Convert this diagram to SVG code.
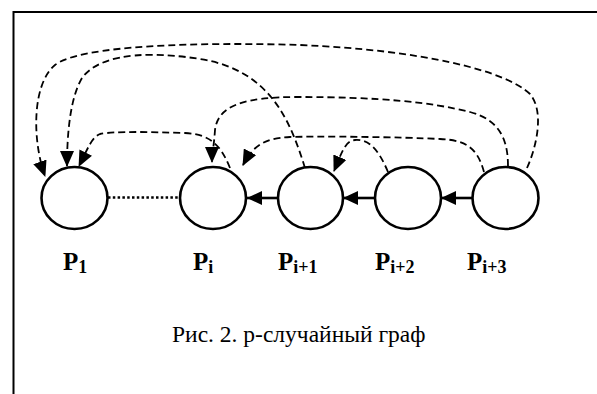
<svg xmlns="http://www.w3.org/2000/svg" width="597" height="394" viewBox="0 0 597 394">
<style>
.node{fill:#fff;stroke:#000;stroke-width:2.6}
.dash{fill:none;stroke:#000;stroke-width:1.8;stroke-dasharray:7 4;marker-end:url(#ah)}
.solid{fill:none;stroke:#000;stroke-width:2.6;marker-end:url(#sh)}
text{font-family:'Liberation Serif','DejaVu Serif',serif;fill:#000}
.lbl{font-weight:bold;font-size:25px}
.sub{font-size:18px}
.cap{font-size:23.5px}
</style>
<defs>
<marker id="ah" markerUnits="userSpaceOnUse" markerWidth="16" markerHeight="14" refX="15" refY="7" orient="auto">
<path d="M0,0 L16,7 L0,14 z" fill="#000"/>
</marker>
<marker id="sh" markerUnits="userSpaceOnUse" markerWidth="15" markerHeight="14" refX="15" refY="7" orient="auto">
<path d="M0,0 L15,7 L0,14 z" fill="#000"/>
</marker>
</defs>
<rect width="597" height="394" fill="#fff"/>
<path d="M13.5,400 L13.5,12 L600,12" fill="none" stroke="#000" stroke-width="2"/>
<g id="connectors">
<path class="dash" d="M527,168 C536,148 545,112 530,94 C505,70 420,50 300,45 C200,42 80,45 55,65 C32,84 32,140 45,176"/>
<path class="dash" d="M305,168 C290,120 270,70 200,59 C130,48 95,60 82,78 C70,98 67,135 67,166"/>
<path class="dash" d="M230,168 C222,148 212,134 185,133 C150,132 115,131 100,134 C92,137 88,148 79,166"/>
<path class="dash" d="M508,166 C508,140 500,120 470,112 C430,102 380,97 297,97 C245,97 218,105 215,130 C214,145 212,155 212,162"/>
<path class="dash" d="M388,172 C378,148 368,139 355,140 C345,141 342,152 334,171"/>
<path class="dash" d="M484,172 C478,150 468,140 440,139 C400,137 320,136 290,137 C262,138 252,148 243,165"/>
<line x1="108" y1="197.5" x2="180" y2="197.5" stroke="#000" stroke-width="2.5" stroke-dasharray="2.5 2.3"/>
<line class="solid" x1="278" y1="198" x2="247" y2="198"/>
<line class="solid" x1="375" y1="198" x2="343" y2="198"/>
<line class="solid" x1="473" y1="198" x2="441" y2="198"/>
</g>
<g id="P1"><ellipse class="node" cx="74.5" cy="198" rx="33" ry="31"/><text class="lbl" x="63" y="270">P<tspan class="sub" dy="2.5">1</tspan></text></g>
<g id="Pi"><ellipse class="node" cx="213" cy="198" rx="33" ry="31"/><text class="lbl" x="193" y="270">P<tspan class="sub" dy="2.5">i</tspan></text></g>
<g id="Pi1"><ellipse class="node" cx="310.5" cy="198" rx="32.5" ry="31"/><text class="lbl" x="278" y="270">P<tspan class="sub" dy="2.5">i+1</tspan></text></g>
<g id="Pi2"><ellipse class="node" cx="408" cy="198" rx="33" ry="31"/><text class="lbl" x="375" y="270">P<tspan class="sub" dy="2.5">i+2</tspan></text></g>
<g id="Pi3"><ellipse class="node" cx="505.5" cy="198" rx="33" ry="31"/><text class="lbl" x="467" y="270">P<tspan class="sub" dy="2.5">i+3</tspan></text></g>
<text class="cap" x="172" y="342">Рис. 2. p-случайный граф</text>
</svg>
